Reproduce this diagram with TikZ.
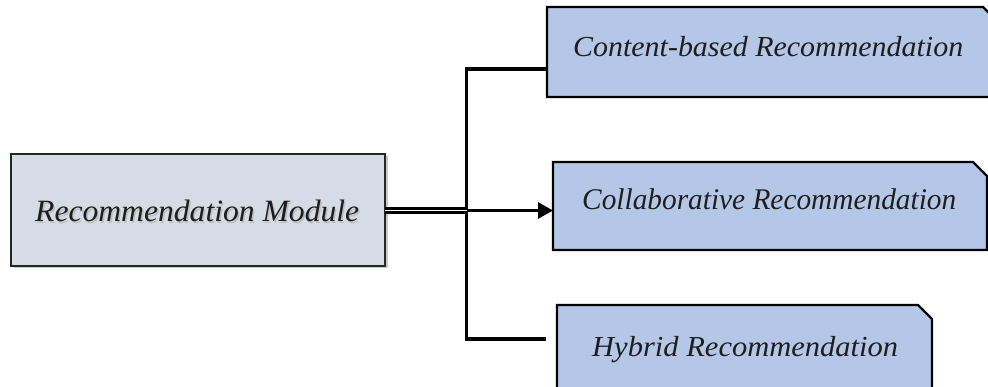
\documentclass[tikz,border=0pt]{standalone}
\usepackage{fontspec}
\setmainfont{Liberation Serif}
\usetikzlibrary{arrows.meta,calc}

\definecolor{modfill}{HTML}{D6DCE5}
\definecolor{recfill}{HTML}{B4C7E7}
\definecolor{txt}{HTML}{1E1E1E}

\tikzset{
  box/.style={draw=none, minimum width=0pt, inner sep=0pt, outer sep=0pt},
  outline/.style={draw=black, line width=2.2pt, fill=recfill, line join=miter},
  label/.style={anchor=base west, inner sep=0pt, text=txt, font=\itshape},
  wire/.style={draw=black, line width=3.2pt},
}

% text stretched to a given width, keeping its natural height
\newcommand{\fitw}[3]{\resizebox{#1}{\height}{\fontsize{#2}{#2}\selectfont #3}}

\begin{document}
\begin{tikzpicture}[x=1pt,y=-1pt]
  \useasboundingbox (0,0) rectangle (988,387);

  % the module on the left, with a faint drop shadow
  \node[box, minimum width=374pt, minimum height=112pt, fill=black!22]
    at (200.5,212.5) {};
  \node[box, draw=black!85, line width=2.2pt, fill=modfill,
        minimum width=374pt, minimum height=112pt] (mod) at (198,210) {};
  \node[label, text=black!25] at (36.5,223.5) {\fitw{324pt}{31pt}{Recommendation Module}};
  \node[label] (modtxt) at (35,222) {\fitw{324pt}{31pt}{Recommendation Module}};

  % the three kinds of recommendation (snipped top-right corner)
  \node[box, minimum width=462pt, minimum height=90pt] (cb) at (778,52) {};
  \node[box, minimum width=434pt, minimum height=88pt] (co) at (770,206) {};
  \node[box, minimum width=375pt, minimum height=100pt] (hy) at (744.5,355) {};

  \draw[outline] (cb.south west) |- ($(cb.north east)+(-26,0)$)
        -- ($(cb.north east)+(0,26)$) |- cycle;
  \draw[outline] (co.south west) |- ($(co.north east)+(-14,0)$)
        -- ($(co.north east)+(0,14)$) |- cycle;
  \draw[outline] (hy.south west) |- ($(hy.north east)+(-14,0)$)
        -- ($(hy.north east)+(0,14)$) |- cycle;

  \node[label] (cbtxt) at (573,57) {\fitw{390pt}{29pt}{Content-based Recommendation}};
  \node[label] (cotxt) at (582,210) {\fitw{374pt}{30pt}{Collaborative Recommendation}};
  \node[label] (hytxt) at (592,356) {\fitw{306pt}{29pt}{Hybrid Recommendation}};

  % connectors
  \coordinate (jtop) at (466.5,69);
  \coordinate (jmid) at (466.5,210.5);
  \coordinate (jbot) at (466.5,339);
  \coordinate (hyend) at (546,339);

  \draw[wire, line cap=rect] (jtop) -- (jbot);
  \draw[wire] (jtop) -- (cb.west |- jtop);
  \draw[wire] (jbot) -- (hyend);
  \draw[draw=black, line width=2.8pt, double=white, double distance=1pt]
    (mod.east |- jmid) -- (jmid);
  \draw[draw=black, line width=3pt, -{Triangle[length=15pt,width=16pt]}]
    (jmid) -- (co.west |- jmid);
\end{tikzpicture}
\end{document}
